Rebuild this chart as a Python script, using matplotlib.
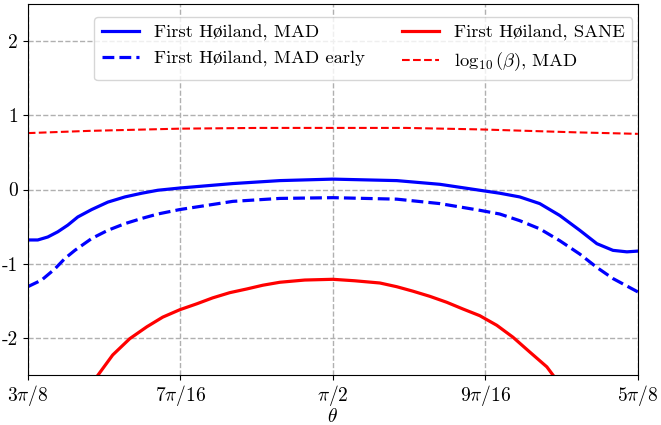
import numpy as np
import matplotlib
matplotlib.use("Agg")
import matplotlib.pyplot as plt

plt.rcParams['font.family'] = ['cmr10', 'STIXGeneral']
plt.rcParams['mathtext.fontset'] = 'cm'
plt.rcParams['axes.unicode_minus'] = False

# theta in units of pi
th_mad = [0.375, 0.3791, 0.3832, 0.3873, 0.3914, 0.3955, 0.4012, 0.4078, 0.4148, 0.4217,
          0.4283, 0.4373, 0.459, 0.4783, 0.5, 0.5262, 0.5439, 0.5602, 0.5684, 0.5766,
          0.5848, 0.593, 0.6012, 0.6082, 0.6148, 0.6205, 0.625]
mad = [-0.68, -0.68, -0.64, -0.57, -0.48, -0.37, -0.27, -0.17, -0.10, -0.05,
       -0.01, 0.02, 0.08, 0.12, 0.14, 0.12, 0.07, -0.01, -0.05, -0.10,
       -0.19, -0.35, -0.55, -0.73, -0.82, -0.84, -0.83]

th_early = [0.375, 0.3807, 0.3861, 0.3902, 0.3943, 0.4012, 0.4078, 0.4148, 0.4217, 0.4283,
            0.4373, 0.459, 0.4783, 0.5, 0.5262, 0.5439, 0.5602, 0.5684, 0.5766, 0.5848,
            0.593, 0.6012, 0.6082, 0.6148, 0.625]
early = [-1.31, -1.22, -1.07, -0.93, -0.82, -0.66, -0.55, -0.46, -0.39, -0.33,
         -0.27, -0.16, -0.12, -0.11, -0.13, -0.19, -0.28, -0.33, -0.42, -0.53,
         -0.69, -0.87, -1.05, -1.20, -1.38]

th_sane = [0.4038, 0.4098, 0.4168, 0.4238, 0.4303, 0.4373, 0.4443, 0.4508, 0.4578, 0.4648,
           0.4713, 0.4783, 0.4885, 0.5, 0.509, 0.5193, 0.5262, 0.5328, 0.5398, 0.5467,
           0.5533, 0.5602, 0.5672, 0.5738, 0.5807, 0.5877, 0.5902]
sane = [-2.5, -2.23, -2.01, -1.85, -1.72, -1.62, -1.54, -1.46, -1.39, -1.34,
        -1.29, -1.25, -1.22, -1.21, -1.23, -1.26, -1.31, -1.37, -1.44, -1.52,
        -1.61, -1.70, -1.83, -1.99, -2.19, -2.39, -2.5]

th_beta = [0.375, 0.4, 0.4373, 0.47, 0.5, 0.53, 0.5602, 0.6, 0.625]
beta = [0.76, 0.79, 0.82, 0.83, 0.83, 0.83, 0.81, 0.77, 0.75]

fig = plt.figure(figsize=(6.61, 4.25), dpi=100)
ax = fig.add_axes([0.042, 0.1176, 0.923, 0.873])

ax.plot(np.array(th_mad) * np.pi, mad, color='blue', lw=2.3, label='First Høiland, MAD')
ax.plot(np.array(th_early) * np.pi, early, color='blue', lw=2.3, ls='--', label='First Høiland, MAD early')
ax.plot(np.array(th_sane) * np.pi, sane, color='red', lw=2.3, label='First Høiland, SANE')
ax.plot(np.array(th_beta) * np.pi, beta, color='red', lw=1.5, ls='--', label=r'$\log_{10}(\beta)$, MAD')

ax.set_xlim(3 * np.pi / 8, 5 * np.pi / 8)
ax.set_ylim(-2.5, 2.5)
ax.set_xticks([3 * np.pi / 8, 7 * np.pi / 16, np.pi / 2, 9 * np.pi / 16, 5 * np.pi / 8])
ax.set_xticklabels([r'$3\pi/8$', r'$7\pi/16$', r'$\pi/2$', r'$9\pi/16$', r'$5\pi/8$'], fontsize=14)
ax.set_yticks([-2, -1, 0, 1, 2])
ax.set_yticklabels(['-2', '-1', '0', '1', '2'], fontsize=14)
ax.tick_params(axis='x', pad=2)
ax.set_xlabel(r'$\theta$', fontsize=14, labelpad=0)
ax.grid(True, ls='--', color='#b0b0b0', lw=1)
ax.legend(loc='upper center', ncol=2, fontsize=13.4, bbox_to_anchor=(0.55, 0.99))

fig.savefig('out.png', dpi=100)
